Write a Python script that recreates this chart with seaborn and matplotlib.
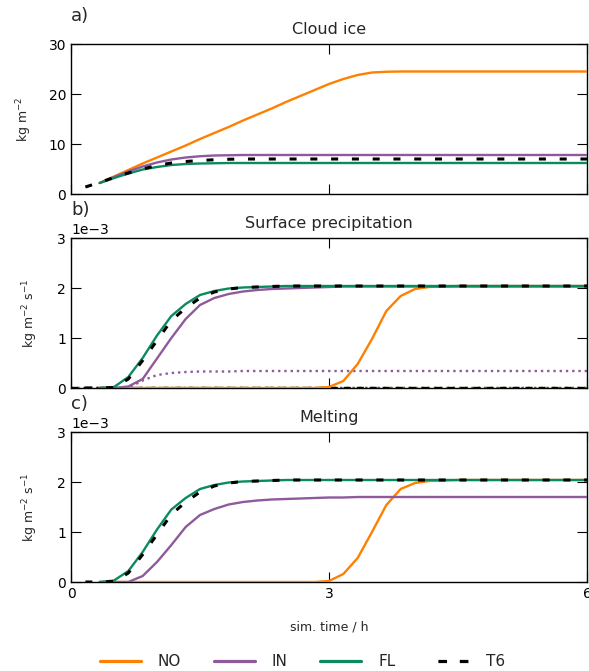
import numpy as np
import pandas as pd
import matplotlib
matplotlib.use("Agg")
import matplotlib.pyplot as plt
import seaborn as sns
from matplotlib.lines import Line2D
from matplotlib.ticker import ScalarFormatter

# ---------------- data ----------------
# time grid: every 10 minutes, 0 .. 6 h
time_h = np.arange(37) / 6.0
N = np.nan

# a) Cloud ice (kg m-2)
ice_NO = [N, N, 2.2, 3.5, 4.8, 6.1, 7.3, 8.5, 9.7, 11.0, 12.2, 13.4, 14.7, 15.9, 17.1, 18.4,
          19.6, 20.8, 22.0, 23.0, 23.8, 24.3, 24.45, 24.5, 24.5, 24.5, 24.5, 24.5, 24.5, 24.5,
          24.5, 24.5, 24.5, 24.5, 24.5, 24.5, 24.5]
ice_IN = [N, N, 2.2, 3.4, 4.5, 5.5, 6.3, 6.9, 7.3, 7.55, 7.7, 7.75, 7.8, 7.8, 7.8, 7.8,
          7.8, 7.8, 7.8, 7.8, 7.8, 7.8, 7.8, 7.8, 7.8, 7.8, 7.8, 7.8, 7.8, 7.8,
          7.8, 7.8, 7.8, 7.8, 7.8, 7.8, 7.8]
ice_FL = [N, N, 2.2, 3.2, 4.1, 4.9, 5.4, 5.8, 6.0, 6.1, 6.15, 6.2, 6.2, 6.2, 6.2, 6.2,
          6.2, 6.2, 6.2, 6.2, 6.2, 6.2, 6.2, 6.2, 6.2, 6.2, 6.2, 6.2, 6.2, 6.2,
          6.2, 6.2, 6.2, 6.2, 6.2, 6.2, 6.2]
ice_T6 = [N, 1.4, 2.3, 3.3, 4.2, 5.0, 5.7, 6.2, 6.5, 6.7, 6.85, 6.95, 7.0, 7.0, 7.0, 7.0,
          7.0, 7.0, 7.0, 7.0, 7.0, 7.0, 7.0, 7.0, 7.0, 7.0, 7.0, 7.0, 7.0, 7.0,
          7.0, 7.0, 7.0, 7.0, 7.0, 7.0, 7.0]

# b) Surface precipitation (1e-3 kg m-2 s-1)
pr_NO = [N, N, 0, 0, 0, 0, 0, 0, 0, 0, 0, 0, 0, 0, 0, 0, 0, 0,
         0.02, 0.14, 0.48, 0.98, 1.54, 1.84, 1.98, 2.02, 2.03, 2.04, 2.04, 2.04,
         2.04, 2.04, 2.04, 2.04, 2.04, 2.04, 2.04]
pr_IN = [N, N, 0, 0, 0.03, 0.18, 0.59, 1.0, 1.38, 1.66, 1.8, 1.88, 1.93, 1.96, 1.98, 1.99,
         2.0, 2.01, 2.02, 2.03, 2.03, 2.03, 2.03, 2.03, 2.03, 2.03, 2.03, 2.03, 2.03, 2.03,
         2.03, 2.03, 2.03, 2.03, 2.03, 2.03, 2.03]
pr_FL = [N, N, 0, 0.02, 0.22, 0.6, 1.05, 1.44, 1.68, 1.86, 1.94, 1.99, 2.01, 2.02, 2.03, 2.04,
         2.04, 2.04, 2.04, 2.04, 2.04, 2.04, 2.04, 2.04, 2.04, 2.04, 2.04, 2.04, 2.04, 2.04,
         2.04, 2.04, 2.04, 2.04, 2.04, 2.04, 2.04]
pr_T6 = [N, 0, 0, 0.01, 0.18, 0.55, 0.95, 1.35, 1.6, 1.8, 1.92, 1.98, 2.01, 2.02, 2.03, 2.04,
         2.04, 2.04, 2.04, 2.04, 2.04, 2.04, 2.04, 2.04, 2.04, 2.04, 2.04, 2.04, 2.04, 2.04,
         2.04, 2.04, 2.04, 2.04, 2.04, 2.04, 2.04]
# dotted (secondary) series in panel b
pr2_IN = [N, N, 0, 0, 0, 0.15, 0.26, 0.3, 0.32, 0.33, 0.33, 0.33, 0.34, 0.34, 0.34, 0.34,
          0.34, 0.34, 0.34, 0.34, 0.34, 0.34, 0.34, 0.34, 0.34, 0.34, 0.34, 0.34, 0.34, 0.34,
          0.34, 0.34, 0.34, 0.34, 0.34, 0.34, 0.34]
pr2_zero = [0] * 37

# c) Melting (1e-3 kg m-2 s-1)
me_NO = [N, N, 0, 0, 0, 0, 0, 0, 0, 0, 0, 0, 0, 0, 0, 0, 0, 0,
         0.02, 0.16, 0.48, 1.0, 1.54, 1.86, 1.98, 2.02, 2.03, 2.04, 2.04, 2.04,
         2.04, 2.04, 2.04, 2.04, 2.04, 2.04, 2.04]
me_IN = [N, N, 0, 0, 0.0, 0.12, 0.4, 0.74, 1.1, 1.34, 1.46, 1.55, 1.6, 1.63, 1.65, 1.66,
         1.67, 1.68, 1.69, 1.69, 1.7, 1.7, 1.7, 1.7, 1.7, 1.7, 1.7, 1.7, 1.7, 1.7,
         1.7, 1.7, 1.7, 1.7, 1.7, 1.7, 1.7]
me_FL = [N, N, 0, 0.03, 0.22, 0.6, 1.05, 1.45, 1.68, 1.86, 1.94, 1.99, 2.01, 2.02, 2.03, 2.04,
         2.04, 2.04, 2.04, 2.04, 2.04, 2.04, 2.04, 2.04, 2.04, 2.04, 2.04, 2.04, 2.04, 2.04,
         2.04, 2.04, 2.04, 2.04, 2.04, 2.04, 2.04]
me_T6 = [N, 0, 0, 0.01, 0.18, 0.55, 0.95, 1.35, 1.6, 1.8, 1.92, 1.98, 2.01, 2.02, 2.03, 2.04,
         2.04, 2.04, 2.04, 2.04, 2.04, 2.04, 2.04, 2.04, 2.04, 2.04, 2.04, 2.04, 2.04, 2.04,
         2.04, 2.04, 2.04, 2.04, 2.04, 2.04, 2.04]

labels = ["NO", "IN", "FL", "T6"]
colors = {"NO": "#ff8000", "IN": "#8e5a9c", "FL": "#0a8a5f", "T6": "#000000"}
titles = ["Cloud ice", "Surface precipitation", "Melting"]
panel_tags = ["a)", "b)", "c)"]
xticks = [0, 3, 6]

# ---------------- style ----------------
sns.set_style("ticks")
plt.rcParams.update({
    "font.family": ["DejaVu Sans"],
    "xtick.direction": "in", "ytick.direction": "in",
    "xtick.top": True, "ytick.right": True,
    "xtick.major.size": 7, "ytick.major.size": 7,
    "xtick.major.width": 0.8, "ytick.major.width": 0.8,
    "axes.edgecolor": "black", "axes.linewidth": 1.0,
    "xtick.color": "black", "ytick.color": "black",
    "xtick.labelsize": 10, "ytick.labelsize": 10,
    "axes.formatter.use_mathtext": False,
})

LW = 1.7
LW_T6 = 2.2
T6_DASH = [2.3, 4.5]

fig = plt.figure(figsize=(5.89, 6.71), dpi=100)
W, H = 589, 671
left, right = 71, 587
tops = [44, 238, 432]
ph = 150
axes = []
for top in tops:
    ax = fig.add_axes([left / W, 1 - (top + ph) / H, (right - left) / W, ph / H])
    axes.append(ax)


def draw(ax, series, scale=1.0):
    for lab in labels:
        y = np.array(series[lab], dtype=float) * scale
        df = pd.DataFrame({"t": time_h, "v": y})
        if lab == "T6":
            sns.lineplot(data=df, x="t", y="v", ax=ax, color=colors[lab], lw=LW_T6, zorder=4)
            ax.lines[-1].set_dashes(T6_DASH)
        else:
            sns.lineplot(data=df, x="t", y="v", ax=ax, color=colors[lab], lw=LW, zorder=3)


# panel a
draw(axes[0], {"NO": ice_NO, "IN": ice_IN, "FL": ice_FL, "T6": ice_T6})
axes[0].set_ylim(0, 30)
axes[0].set_yticks([0, 10, 20, 30])
axes[0].set_ylabel("kg m$^{-2}$", fontsize=9)
axes[0].yaxis.set_label_coords((34 - left) / (right - left), 0.5)

# panel b
axb = axes[1]
for lab, ser in [("NO", pr2_zero), ("FL", pr2_zero), ("T6", pr2_zero), ("IN", pr2_IN)]:
    df = pd.DataFrame({"t": time_h, "v": np.array(ser, dtype=float) * 1e-3})
    sns.lineplot(data=df, x="t", y="v", ax=axb, color=colors[lab], lw=LW, zorder=2)
    axb.lines[-1].set_linestyle(":")
    if lab == "T6":
        axb.lines[-1].set_dashes([3, 2.5])
draw(axb, {"NO": pr_NO, "IN": pr_IN, "FL": pr_FL, "T6": pr_T6}, scale=1e-3)

# panel c
axc = axes[2]
draw(axc, {"NO": me_NO, "IN": me_IN, "FL": me_FL, "T6": me_T6}, scale=1e-3)

for ax in (axb, axc):
    ax.set_ylim(0, 3e-3)
    ax.set_yticks([0, 1e-3, 2e-3, 3e-3])
    fmt = ScalarFormatter(useMathText=False)
    fmt.set_powerlimits((0, 0))
    ax.yaxis.set_major_formatter(fmt)
    ax.set_ylabel("kg m$^{-2}$ s$^{-1}$", fontsize=9)
    ax.yaxis.set_label_coords((40 - left) / (right - left), 0.5)

for i, ax in enumerate(axes):
    ax.set_xlim(0, 6)
    ax.set_xticks(xticks)
    ax.set_title(titles[i], fontsize=11.5, pad=7)
    ax.text(0.0, 1.0 + 19 / ph, panel_tags[i], transform=ax.transAxes, fontsize=13,
            ha="left", va="bottom")
    ax.set_xlabel("")
    if i < 2:
        ax.set_xticklabels([])
    for sp in ax.spines.values():
        sp.set_visible(True)
        sp.set_color("black")
    ax.yaxis.get_offset_text().set_fontsize(10)

axc.set_xticklabels(["0", "3", "6"])
axc.set_xlabel("sim. time / h", fontsize=9, labelpad=14)

# legend
handles = []
for lab in labels:
    if lab == "T6":
        h = Line2D([], [], color=colors[lab], lw=2.3, linestyle=(3.6, (2.7, 4.0)))
    else:
        h = Line2D([], [], color=colors[lab], lw=2.3)
    handles.append(h)
fig.legend(handles, labels, loc="lower center", bbox_to_anchor=(0.5 + 8 / W, -0.018),
           ncol=4, frameon=False, fontsize=11, handlelength=2.68, handletextpad=1.1,
           columnspacing=2.15)

fig.savefig("out.png", dpi=100)
